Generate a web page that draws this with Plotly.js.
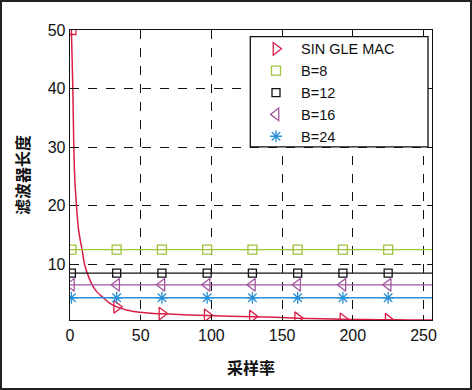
<!DOCTYPE html>
<html><head><meta charset="utf-8">
<script src="https://cdn.plot.ly/plotly-3.0.1.min.js"></script>
<style>
html,body{margin:0;padding:0;background:#fff;}
#wrap{position:relative;width:472px;height:390px;}
#chart{position:absolute;left:0;top:0;width:472px;height:390px;}
#frame{position:absolute;left:0;top:0;width:472px;height:390px;box-sizing:border-box;border:2px solid #222;pointer-events:none;}
</style></head>
<body><div id="wrap"><div id="chart"></div><div id="frame"></div></div>
<script>
// SINGLE MAC curve
const curveX = [1, 1.5, 2, 2.7, 3.5, 4.6, 6, 7.5, 8.6, 10.3, 12.2, 15.7, 19, 23.5, 28, 33, 40, 45, 55, 65, 80, 97, 113, 129, 145, 161, 177, 193, 209, 225, 241, 256];
const curveY = [50, 45, 40, 30, 24, 20, 16, 13.8, 12.5, 10, 8.5, 6.5, 5.3, 4.3, 3.4, 2.75, 2.2, 1.95, 1.7, 1.55, 1.4, 1.25, 1.15, 1.05, 0.95, 0.8, 0.7, 0.62, 0.58, 0.55, 0.52, 0.5];
const triX = [33, 65, 97, 129, 161, 193, 225];
const triY = [2.75, 1.6, 1.3, 1.1, 0.8, 0.62, 0.55];
const startX = [1], startY = [50];
// constant series
const markX = [1, 33, 65, 97, 129, 161, 193, 225];
const lineX = [0, 256];
const b8 = 12.5, b12 = 8.5, b16 = 6.5, b24 = 4.3;
const names = ['SIN GLE MAC', 'B=8', 'B=12', 'B=16', 'B=24'];
const xTicks = [0, 50, 100, 150, 200, 250];
const yTicks = [10, 20, 30, 40, 50];

const red = '#d81e46', green = '#9cc43c', black = '#111', purple = '#a0559c', blue = '#2a8fd6';
const traces = [];
function addConst(v, name, color, symbol, size) {
  traces.push({x: lineX, y: lineX.map(() => v), mode: 'lines', line: {color: color, width: 1.3}, showlegend: false, hoverinfo: 'skip'});
  traces.push({x: markX, y: markX.map(() => v), mode: 'markers', name: name,
    marker: {symbol: symbol, size: size, color: color, line: {color: color, width: 1.3}}});
}
traces.push({x: curveX, y: curveY, mode: 'lines', line: {color: red, width: 1.5, shape: 'spline'}, showlegend: false, hoverinfo: 'skip'});
traces.push({x: triX, y: triY, mode: 'markers', name: names[0],
  marker: {symbol: 'triangle-right-open', size: 11, color: red, line: {color: red, width: 1.3}}});
traces.push({x: startX, y: startY, mode: 'markers', showlegend: false,
  marker: {symbol: 'square-open', size: 9, color: red, line: {color: red, width: 1.3}}});
addConst(b8, names[1], green, 'square-open', 9);
addConst(b12, names[2], black, 'square-open', 8);
addConst(b16, names[3], purple, 'triangle-left-open', 11);
addConst(b24, names[4], blue, 'asterisk-open', 10);

const font = {family: 'Liberation Sans, Arial, sans-serif', size: 16, color: '#111'};
const layout = {
  width: 472, height: 390,
  margin: {l: 69.5, r: 40, t: 30, b: 70},
  paper_bgcolor: '#fff', plot_bgcolor: '#fff',
  font: font,
  showlegend: true,
  shapes: [{type: 'rect', xref: 'paper', yref: 'paper', x0: 0.498, x1: 0.989, y0: 0.597, y1: 0.977,
    line: {color: '#111', width: 1.3}, fillcolor: '#fff', layer: 'above'}],
  legend: {x: 0.50, y: 0.99, xanchor: 'left', yanchor: 'top', bgcolor: 'rgba(0,0,0,0)', bordercolor: 'rgba(0,0,0,0)', borderwidth: 0,
    font: {family: 'Liberation Sans, Arial, sans-serif', size: 14.5, color: '#111'}, tracegroupgap: 0, itemwidth: 40},
  xaxis: {range: [0, 256], tickvals: xTicks, ticktext: xTicks.map(String), ticks: 'inside', ticklen: 5, tickcolor: '#111',
    showline: true, linecolor: '#111', linewidth: 1.3, mirror: 'ticks', zeroline: false,
    showgrid: true, gridcolor: '#111', griddash: 'dash', gridwidth: 1,
    title: {text: '<b>采样率</b>', font: {family: 'Noto Sans CJK SC, sans-serif', size: 16, color: '#111'}, standoff: 20}},
  yaxis: {range: [0.5, 50], tickvals: yTicks, ticktext: yTicks.map(String), ticks: 'inside', ticklen: 5, tickcolor: '#111',
    showline: true, linecolor: '#111', linewidth: 1.3, mirror: 'ticks', zeroline: false,
    showgrid: true, gridcolor: '#111', griddash: 'dash', gridwidth: 1,
    title: {text: '<b>滤波器长度</b>', font: {family: 'Noto Sans CJK SC, sans-serif', size: 16, color: '#111'}, standoff: 14}}
};
Plotly.newPlot('chart', traces, layout, {staticPlot: true});
</script></body></html>
